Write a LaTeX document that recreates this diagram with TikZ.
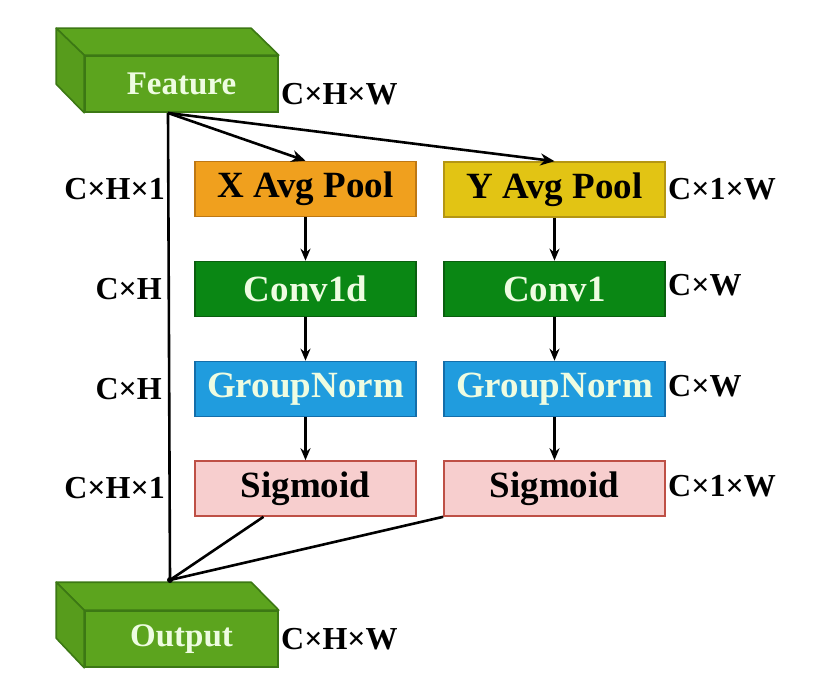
\documentclass[tikz,border=0pt]{standalone}
\usepackage{fontspec}
\setmainfont{Liberation Serif}
\usetikzlibrary{arrows.meta,calc}
\definecolor{cubeg}{RGB}{92,164,30}
\definecolor{cubeedge}{RGB}{60,120,20}
\definecolor{orangeb}{RGB}{240,160,30}
\definecolor{orangee}{RGB}{190,120,20}
\definecolor{yellowb}{RGB}{226,196,20}
\definecolor{yellowe}{RGB}{180,150,20}
\definecolor{convg}{RGB}{10,135,20}
\definecolor{conve}{RGB}{10,95,15}
\definecolor{blueb}{RGB}{32,156,222}
\definecolor{bluee}{RGB}{20,110,170}
\definecolor{pinkb}{RGB}{247,206,206}
\definecolor{pinke}{RGB}{190,80,70}
\definecolor{lighttxt}{RGB}{238,252,225}
\begin{document}
\begin{tikzpicture}[x=1pt,y=-1pt,
  box/.style={draw, line width=1.6pt, minimum width=221pt, minimum height=55pt, inner sep=0pt, font=\bfseries\fontsize{37}{40}\selectfont},
  cubefront/.style={draw=cubeedge, fill=cubeg, line width=1.6pt, minimum width=193pt, minimum height=56pt, inner sep=0pt, text=lighttxt, font=\bfseries\fontsize{33}{36}\selectfont},
  dimlab/.style={font=\bfseries\fontsize{32}{34}\selectfont, inner sep=0pt},
  conn/.style={line width=2.6pt},
  arr/.style={conn, -{Stealth[length=14pt,width=12pt]}},
  sarr/.style={line width=2.2pt, -{Stealth[length=12pt,width=10pt]}}
]
\useasboundingbox (0,0) rectangle (830,684);

% Feature cuboid
\node[cubefront] (feat) at (181.5,84) {Feature};
\filldraw[cubeedge, fill=cubeg, line width=1.6pt, line join=round]
  (feat.north west) -- ++(-28,-27) -- ++(195,0) -- (feat.north east) -- cycle;
\filldraw[cubeedge, fill=cubeg!95!black, line width=1.6pt, line join=round]
  (feat.north west) -- ++(-28,-27) -- ++(0,56) -- (feat.south west) -- cycle;
\node[cubefront] at (feat) {Feature};

% Output cuboid
\node[cubefront] (outp) at (181.5,639) {Output};
\filldraw[cubeedge, fill=cubeg, line width=1.6pt, line join=round]
  (outp.north west) -- ++(-28,-28) -- ++(195,0) -- (outp.north east) -- cycle;
\filldraw[cubeedge, fill=cubeg!95!black, line width=1.6pt, line join=round]
  (outp.north west) -- ++(-28,-28) -- ++(0,56) -- (outp.south west) -- cycle;
\node[cubefront] at (outp) {Output};

% Boxes
\node[box, draw=orangee, fill=orangeb] (xp) at (305.5,189) {X Avg Pool};
\node[box, draw=yellowe, fill=yellowb] (yp) at (554.5,189.5) {Y Avg Pool};
\node[box, draw=conve, fill=convg, text=lighttxt] (c1) at (305.5,289) {Conv1d};
\node[box, draw=conve, fill=convg, text=lighttxt] (c2) at (554.5,289) {Conv1};
\node[box, draw=bluee, fill=blueb, text=lighttxt] (g1) at (305.5,389) {GroupNorm};
\node[box, draw=bluee, fill=blueb, text=lighttxt] (g2) at (554.5,389) {GroupNorm};
\node[box, draw=pinke, fill=pinkb] (s1) at (305.5,488.5) {Sigmoid};
\node[box, draw=pinke, fill=pinkb] (s2) at (554.5,488.5) {Sigmoid};

% Dimension labels
\node[dimlab, anchor=west] (lf) at (281,94) {C×H×W};
\node[dimlab, anchor=west] (lo) at (281,639) {C×H×W};
\node[dimlab, anchor=east] (l1) at (165,189) {C×H×1};
\node[dimlab, anchor=east] (l2) at (162,289) {C×H};
\node[dimlab, anchor=east] (l3) at (162,389) {C×H};
\node[dimlab, anchor=east] (l4) at (165,488) {C×H×1};
\node[dimlab, anchor=west] (r1) at (668,189) {C×1×W};
\node[dimlab, anchor=west] (r2) at (668,285) {C×W};
\node[dimlab, anchor=west] (r3) at (668,386) {C×W};
\node[dimlab, anchor=west] (r4) at (668,486) {C×1×W};

% Connectors
\coordinate (fs) at (168,113);
\coordinate (join) at (170,580);
\coordinate (s1b) at ([xshift=-42pt]s1.south);
\draw[arr] (fs) -- (xp.north);
\draw[arr] (fs) -- (yp.north);
\draw[conn] (fs) -- (join);
\draw[conn] (s1b) -- (join);
\draw[conn] (s2.south west) -- (join);
\fill (join) circle (3pt);
\draw[sarr] (xp) -- (c1);
\draw[sarr] (c1) -- (g1);
\draw[sarr] (g1) -- (s1);
\draw[sarr] (yp) -- (c2);
\draw[sarr] (c2) -- (g2);
\draw[sarr] (g2) -- (s2);
\end{tikzpicture}
\end{document}
